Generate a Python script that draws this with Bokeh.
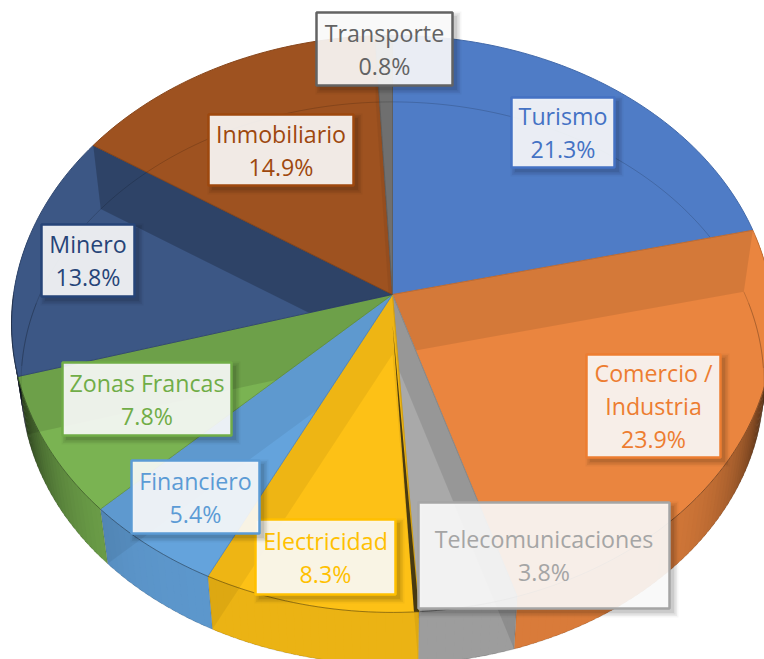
from bokeh.plotting import figure
from bokeh.embed import file_html
from bokeh.resources import INLINE
from bokeh.core.properties import value
import math

names = ["Turismo", "Comercio / Industria", "Telecomunicaciones", "Electricidad", "Financiero",
         "Zonas Francas", "Minero", "Inmobiliario", "Transporte"]
shares = [21.3, 23.9, 3.8, 8.3, 5.4, 7.8, 13.8, 14.9, 0.8]
face_colors = ["#4f7cc6", "#ea853f", "#a9a9a9", "#fdc116", "#64a3dc", "#7ab352", "#3c5785", "#9e5220", "#6f6f6f"]
label_colors = ["#4472c4", "#ed7d31", "#a5a5a5", "#ffc000", "#5b9bd5", "#70ad47", "#264478", "#9e480e", "#636363"]
wall_alpha = [0.05, 0.09, 0.10, 0.06, 0.06, 0.10, 0.22, 0.05, 0.05]
# label boxes in page pixels: left, right, top, bottom
boxes = [(511, 614, 97, 167), (586, 720, 354, 457), (418, 669, 502, 608), (255, 395, 519, 594),
         (131, 259, 460, 533), (62, 231, 362, 435), (41, 134, 224, 296), (208, 353, 114, 185), (316, 452, 12, 85)]
label_lines = [["Turismo"], ["Comercio /", "Industria"], ["Telecomunicaciones"], ["Electricidad"],
               ["Financiero"], ["Zonas Francas"], ["Minero"], ["Inmobiliario"], ["Transporte"]]

W, H = 764, 659
AX, AY = 392, 294      # apex of the top face on the page
RA, RB, K = 379.0, 285.5, 0.102
DEPTH, SHRINK = 60.0, 0.975


def top(t):
    u, v = math.sin(t), math.cos(t)
    d = 1 + K * v
    return AX + RA * u / d, AY - RB * v / d


def bottom(t):
    x, y = top(t)
    return AX + (x - AX) * SHRINK, AY + (y - AY) * SHRINK + DEPTH


def clip(poly, a, b):
    """Keep the part of poly clockwise of the directed line a->b on screen."""
    out = []
    side = lambda p: (b[0] - a[0]) * (p[1] - a[1]) - (b[1] - a[1]) * (p[0] - a[0])
    for i, p in enumerate(poly):
        q = poly[(i + 1) % len(poly)]
        sp, sq = side(p), side(q)
        if sp >= 0:
            out.append(p)
        if sp * sq < 0:
            r = sp / (sp - sq)
            out.append((p[0] + (q[0] - p[0]) * r, p[1] + (q[1] - p[1]) * r))
    return out


p = figure(width=W, height=H, x_range=(0, W), y_range=(H, 0), toolbar_location=None,
           output_backend="svg", min_border=0, outline_line_color=None, background_fill_color="white")
p.axis.visible = False
p.grid.visible = False

total = sum(shares)
edges = [0.0]
for s in shares:
    edges.append(edges[-1] + s / total * 2 * math.pi)


def dark(col, f):
    r, g, b = int(col[1:3], 16), int(col[3:5], 16), int(col[5:7], 16)
    return "#%02x%02x%02x" % (int(r * (1 - f)), int(g * (1 - f)), int(b * (1 - f)))


# side of the disc, shaded towards the grazing ends
for i, col in enumerate(face_colors):
    a0, a1 = edges[i], edges[i + 1]
    n = max(2, int((a1 - a0) / 0.02))
    for k in range(n):
        t0 = a0 + (a1 - a0) * k / n
        t1 = min(a1, a0 + (a1 - a0) * (k + 1.6) / n)
        tm = (t0 + t1) / 2
        if math.cos(tm) > 0.2:
            continue
        f = 0.07 + 0.75 * abs(math.sin(tm)) ** 8
        q = [top(t0), top(t1), bottom(t1), bottom(t0)]
        p.patch([c[0] for c in q], [c[1] for c in q], fill_color=dark(col, f), line_color=None)

# top faces, with the inside walls and far rim seen through them
for i, col in enumerate(face_colors):
    a0, a1 = edges[i], edges[i + 1]
    n = max(3, int((a1 - a0) / 0.02))
    ts = [a0 + (a1 - a0) * k / n for k in range(n + 1)]
    rim = [top(t) for t in ts]
    xs = [AX] + [c[0] for c in rim]
    ys = [AY] + [c[1] for c in rim]
    p.patch(xs, ys, fill_color=col, line_color=dark(col, 0.14), line_width=1)
    apex = (AX, AY)
    low = (AX, AY + DEPTH)
    # both radial walls, cut to the wedge of this slice and drawn over top and side alike
    for t in (a0, a1):
        wall = [apex, top(t), bottom(t), low]
        wall = clip(wall, apex, top(a0))
        wall = clip(wall, top(a1), apex) if wall else wall
        if len(wall) > 2:
            p.patch([c[0] for c in wall], [c[1] for c in wall], fill_color="black", fill_alpha=wall_alpha[i],
                    line_color=None)
    # far rim of the bottom face, seen through the top face
    far = [t for t in ts if math.cos(t) > -0.05]
    if len(far) > 1:
        p.line([bottom(t)[0] for t in far], [bottom(t)[1] for t in far], line_color="black", line_alpha=0.16,
               line_width=1)
    # near rim of the top face against the side
    near = [t for t in ts if math.cos(t) < 0]
    if len(near) > 1:
        p.line([top(t)[0] for t in near], [top(t)[1] for t in near], line_color="black", line_alpha=0.3, line_width=1)

# the wall almost edge-on between Electricidad and Telecomunicaciones: a dark sliver
t_s = edges[3]
tip = top(t_s)
foot = bottom(t_s)
frac = (tip[1] - (AY + DEPTH)) / (foot[1] - (AY + DEPTH))
mid_low = (AX + (foot[0] - AX) * frac, tip[1])
p.patch([AX, tip[0], mid_low[0]], [AY + 30, tip[1], mid_low[1]], fill_color="#2a2410", fill_alpha=0.85, line_color=None)

# seams and bottom rim of the side
for t in edges[:-1]:
    if math.cos(t) < 0.2:
        p.line([top(t)[0], bottom(t)[0]], [top(t)[1], bottom(t)[1]], line_color="black", line_alpha=0.12, line_width=1)
ts = sorted(k * 2 * math.pi / 400 for k in range(401))
ts = [t for t in ts if math.cos(t) < 0.2]
p.line([bottom(t)[0] for t in ts], [bottom(t)[1] for t in ts], line_color="black", line_alpha=0.12, line_width=1)

FONT = value("Open Sans")
FS = "23.2px"
LINE = 33
for i, (l, r, tp, bt) in enumerate(boxes):
    for o, a in ((10, 0.035), (7, 0.05), (4, 0.06), (1, 0.07)):
        p.quad(left=l + 4 - o / 2, right=r + 4 + o / 2, top=tp + 4 - o / 2, bottom=bt + 4 + o / 2,
               fill_color="black", fill_alpha=a, line_color=None)
    p.quad(left=l, right=r, top=tp, bottom=bt, fill_color="white", fill_alpha=0.89,
           line_color=label_colors[i], line_width=2.5)
    rows = label_lines[i] + [f"{shares[i]:.1f}%"]
    mid = (tp + bt) / 2
    cx = (l + r) / 2
    for j, row in enumerate(rows):
        y = mid + (j - (len(rows) - 1) / 2) * LINE
        p.text(x=[cx], y=[y], text=[row], text_font=FONT, text_font_size=FS, text_color=label_colors[i],
               text_align="center", text_baseline="middle")

open("out.html", "w").write(file_html(p, INLINE))
